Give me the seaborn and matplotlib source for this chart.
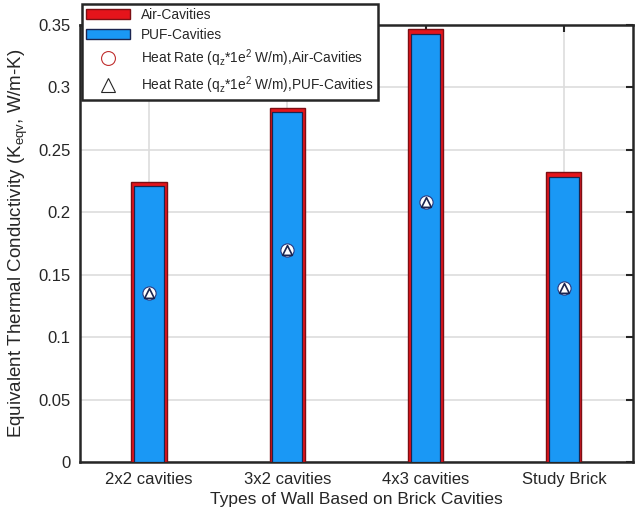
import numpy as np
import pandas as pd
import matplotlib
matplotlib.use('Agg')
import matplotlib.pyplot as plt
from matplotlib.patches import Patch
from matplotlib.lines import Line2D
from matplotlib.ticker import FuncFormatter
import seaborn as sns

# data
walls = ['2x2 cavities', '3x2 cavities', '4x3 cavities', 'Study Brick']
k_air = [0.224, 0.2835, 0.347, 0.232]
k_puf = [0.221, 0.280, 0.343, 0.228]
heat_air = [0.135, 0.170, 0.208, 0.139]
heat_puf = [0.135, 0.170, 0.208, 0.139]

sns.set_theme(style='whitegrid')
plt.rcParams['font.family'] = ['Liberation Sans', 'DejaVu Sans']
plt.rcParams['mathtext.default'] = 'regular'

df = pd.DataFrame({'wall': walls, 'air': k_air, 'puf': k_puf,
                   'q_air': heat_air, 'q_puf': heat_puf})

fig = plt.figure(figsize=(6.4, 5.21), dpi=100)
ax = fig.add_axes([0.125, 0.1132, 0.864, 0.839])

red = '#e5141b'
red_edge = '#7d0f14'
blue = '#1a98f5'
blue_edge = '#1b2550'

sns.barplot(data=df, x='wall', y='air', color=red, saturation=1, width=0.255,
            edgecolor=red_edge, linewidth=1.0, ax=ax, zorder=3)
sns.barplot(data=df, x='wall', y='puf', color=blue, saturation=1, width=0.215,
            edgecolor=blue_edge, linewidth=0.9, ax=ax, zorder=4)

sns.stripplot(data=df, x='wall', y='q_air', jitter=False, marker='o', size=9.5,
              color='white', edgecolor='#2a3a80', linewidth=0.8, ax=ax, zorder=5)
sns.stripplot(data=df, x='wall', y='q_puf', jitter=False, marker='^', size=7,
              color='white', edgecolor=blue_edge, linewidth=1.2, ax=ax, zorder=6)

ax.set_xlim(-0.5, 3.5)
ax.set_ylim(0, 0.35)
ax.set_yticks(np.arange(0, 0.351, 0.05))
ax.yaxis.set_major_formatter(FuncFormatter(lambda v, p: '%g' % round(v, 2)))

ax.grid(True, color='#dddddd', linewidth=1.2)
ax.set_axisbelow(True)
for s in ax.spines.values():
    s.set_visible(True)
    s.set_color('#262626')
    s.set_linewidth(1.8)
ax.tick_params(direction='in', top=True, right=True, length=5, width=1.5,
               color='#262626', labelsize=12, labelcolor='#262626', pad=7)

ax.set_xlabel('Types of Wall Based on Brick Cavities', fontsize=12.5, color='#262626')
ax.set_ylabel('Equivalent Thermal Conductivity (K$_{eqv}$, W/m-K)', fontsize=13.5,
              color='#262626', labelpad=6)

handles = [
    Patch(facecolor=red, edgecolor=red_edge, label='Air-Cavities'),
    Patch(facecolor=blue, edgecolor=blue_edge, label='PUF-Cavities'),
    Line2D([], [], marker='o', linestyle='none', markersize=10, markerfacecolor='none',
           markeredgecolor='#c03030', markeredgewidth=0.8,
           label='Heat Rate (q$_z$*1e$^2$ W/m),Air-Cavities'),
    Line2D([], [], marker='^', linestyle='none', markersize=10, markerfacecolor='none',
           markeredgecolor='#262626', markeredgewidth=0.8,
           label='Heat Rate (q$_z$*1e$^2$ W/m),PUF-Cavities'),
]
leg = ax.legend(handles=handles, loc='upper left', bbox_to_anchor=(0.128, 0.993),
                bbox_transform=fig.transFigure, fontsize=9.9, frameon=True,
                fancybox=False, framealpha=1, borderpad=0.3, handlelength=3.2,
                handletextpad=0.8, labelspacing=0.42, borderaxespad=0)
leg.get_frame().set_edgecolor('#262626')
leg.get_frame().set_linewidth(1.8)
leg.set_zorder(10)

fig.savefig('out.png', dpi=100)
